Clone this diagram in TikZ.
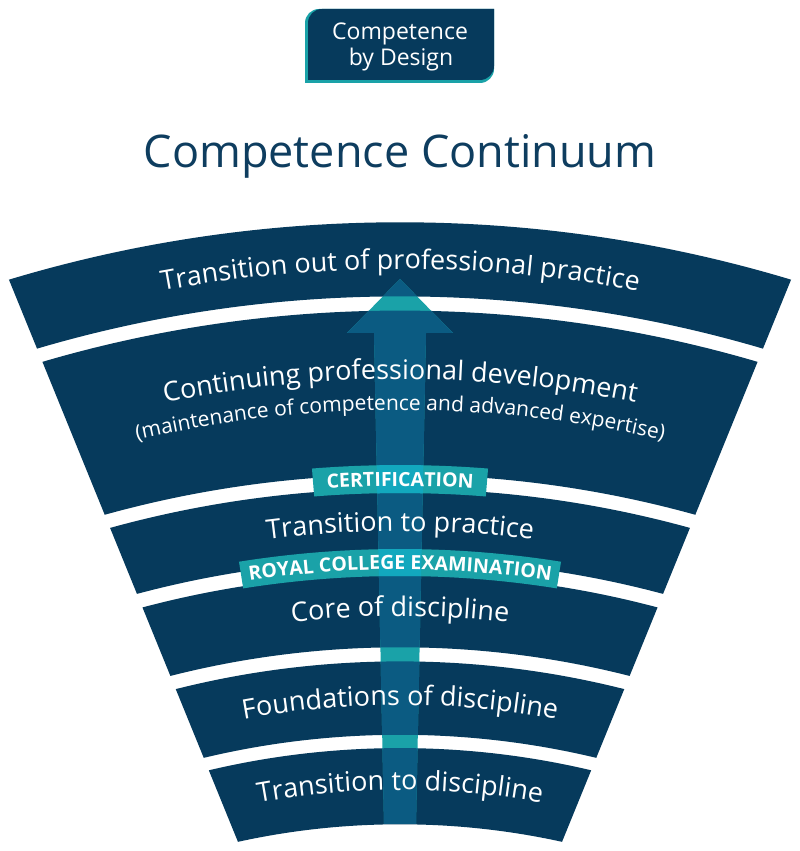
\documentclass[tikz,border=0pt]{standalone}
\usepackage{fontspec}
\setmainfont{Open Sans}
\usetikzlibrary{calc,decorations.text}
\definecolor{navy}{HTML}{063A5C}
\definecolor{arrowblue}{HTML}{0B5B82}
\definecolor{tealc}{HTML}{1AA2A8}
\definecolor{cyanc}{HTML}{12A8BE}
\definecolor{titlec}{HTML}{0E3D5F}
\newcommand\arctext[4]{%
  \path[decorate,decoration={text along path,text align=center,
    text={|\color{white}#3\fontsize{#2}{#2}\selectfont|#4}}]
    ($(O)+(112:#1)$) arc[start angle=112,end angle=68,radius=#1];}
\newcommand\bandfills{%
  \fill[even odd rule] (O) circle[radius=1352.7] (O) circle[radius=1278.6];
  \fill[even odd rule] (O) circle[radius=1264.4] (O) circle[radius=1100.3];
  \fill[even odd rule] (O) circle[radius=1086.2] (O) circle[radius=1015.5];
  \fill[even odd rule] (O) circle[radius=1001.0] (O) circle[radius=927.7];
  \fill[even odd rule] (O) circle[radius=913.6] (O) circle[radius=840.2];
  \fill[even odd rule] (O) circle[radius=826.9] (O) circle[radius=750.7];}
\newcommand\funnelclip{\clip (-105,851) -- (905,851) -- (558.3,0) -- (241.7,0) -- cycle;}
\newcommand\arrowclip{\clip (400,572) -- (453,518) -- (426,518) -- (416,27) -- (384,27) -- (374,518) -- (347,518) -- cycle;}
\newcommand\labelshapes{%
  \fill ($(O)+(94.55:1110)$) arc[start angle=94.55,end angle=85.45,radius=1110]
    -- ($(O)+(85.45:1082)$) arc[start angle=85.45,end angle=94.55,radius=1082] -- cycle;
  \fill ($(O)+(99.03:1026)$) arc[start angle=99.03,end angle=80.97,radius=1026]
    -- ($(O)+(80.97:999)$) arc[start angle=80.97,end angle=99.03,radius=999] -- cycle;}
\begin{document}
\begin{tikzpicture}[x=1pt,y=1pt]
\useasboundingbox (0,0) rectangle (800,851);
\fill[white] (0,0) rectangle (800,851);
\coordinate (O) at (400,-724);
% logo
\fill[tealc] (305,768) -- (305,828) arc[start angle=180,end angle=90,radius=14]
  -- (494,842) -- (494,782) arc[start angle=0,end angle=-90,radius=14] -- cycle;
\fill[navy] (308,771) -- (308,828) arc[start angle=180,end angle=90,radius=14]
  -- (494,842) -- (494,785) arc[start angle=0,end angle=-90,radius=14] -- cycle;
\node[anchor=base,text=white,font=\fontsize{23}{26}\selectfont,inner sep=0pt] (logo1) at (400,811) {Competence};
\node[anchor=base,text=white,font=\fontsize{23}{26}\selectfont,inner sep=0pt] (logo2) at (401,785) {by Design};
% title
\node[anchor=base,text=titlec,font=\fontsize{45}{50}\selectfont,inner sep=0pt] (title) at (400,683) {Competence Continuum};
% bands
\begin{scope}[navy]
  \funnelclip
  \bandfills
\end{scope}
% arrow
\fill[tealc] (400,572) -- (453,518) -- (426,518) -- (416,27) -- (384,27) -- (374,518) -- (347,518) -- cycle;
\begin{scope}[arrowblue]
  \arrowclip
  \funnelclip
  \bandfills
\end{scope}
% labels
\begin{scope}[tealc]
  \labelshapes
\end{scope}
\begin{scope}[cyanc]
  \arrowclip
  \labelshapes
\end{scope}
% texts
\arctext{1306}{27}{}{Transition out of professional practice}
\arctext{1196}{27}{}{Continuing professional development}
\arctext{1165}{21}{}{(maintenance of competence and advanced expertise)}
\arctext{1089}{19.5}{\bfseries}{CERTIFICATION}
\arctext{1044}{27}{}{Transition to practice}
\arctext{1005.5}{19.5}{\bfseries}{ROYAL COLLEGE EXAMINATION}
\arctext{959}{27}{}{Core of discipline}
\arctext{870}{27}{}{Foundations of discipline}
\arctext{785}{27}{}{Transition to discipline}
\end{tikzpicture}
\end{document}
